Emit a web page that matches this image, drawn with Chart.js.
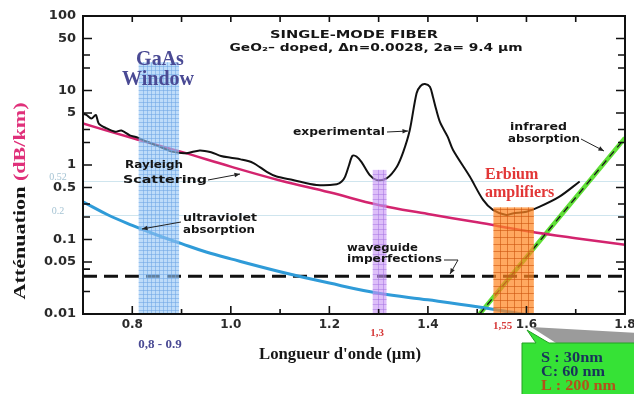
<!DOCTYPE html>
<html>
<head>
<meta charset="utf-8">
<script src="https://cdn.jsdelivr.net/npm/chart.js@4.4.1/dist/chart.umd.min.js"></script>
<style>
  html, body { margin: 0; padding: 0; background: #fff; }
  #wrap { width: 634px; height: 394px; }
</style>
</head>
<body>
<div id="wrap"><canvas id="chart" width="634" height="394"></canvas></div>
<script>
// wavelength (µm) and attenuation (dB/km)
const expWl = [0.70, 0.707, 0.717, 0.726, 0.732, 0.748, 0.765, 0.778, 0.795, 0.81,
  0.83, 0.856, 0.883, 0.91, 0.937, 0.96, 0.98, 1.0, 1.02, 1.045,
  1.073, 1.093, 1.126, 1.174, 1.215, 1.225, 1.232, 1.24, 1.247, 1.255,
  1.265, 1.282, 1.296, 1.316, 1.337, 1.35, 1.363, 1.377, 1.385, 1.394,
  1.404, 1.41, 1.417, 1.425, 1.44, 1.451, 1.485, 1.512, 1.532, 1.559,
  1.572, 1.60, 1.627, 1.667, 1.708];
const expAtt = [4.9, 4.7, 4.2, 4.7, 3.6, 3.1, 2.8, 2.9, 2.5, 2.35,
  2.05, 1.76, 1.5, 1.44, 1.57, 1.48, 1.32, 1.25, 1.19, 1.07,
  0.81, 0.70, 0.63, 0.54, 0.55, 0.60, 0.70, 1.0, 1.33, 1.3,
  1.1, 0.73, 0.63, 0.66, 0.95, 1.5, 2.9, 9.2, 11.5, 12.2,
  11.2, 8.3, 5.5, 3.7, 2.4, 1.59, 0.70, 0.34, 0.25, 0.213,
  0.224, 0.236, 0.276, 0.376, 0.60];

const rayWl = [0.7, 0.8, 0.9, 1.0, 1.1, 1.2, 1.3, 1.4, 1.5, 1.6, 1.7, 1.8];
const rayAtt = [3.6, 2.3, 1.5, 0.95, 0.62, 0.43, 0.29, 0.22, 0.17, 0.13, 0.104, 0.085];

const uvWl = [0.7, 0.75, 0.8, 0.85, 0.9, 0.95, 1.0, 1.1, 1.2, 1.3, 1.4, 1.5, 1.6];
const uvAtt = [0.32, 0.215, 0.155, 0.115, 0.088, 0.068, 0.055, 0.037, 0.026, 0.019, 0.0155, 0.0125, 0.0098];

const wgWl = [0.7, 1.8];
const wgAtt = [0.032, 0.032];

const irWl = [1.505, 1.55, 1.6, 1.65, 1.7, 1.75, 1.8];
const irAtt = [0.01, 0.023, 0.058, 0.146, 0.366, 0.92, 2.3];

// shaded windows: start / end wavelength, top value
const bandFrom = [0.813, 1.288, 1.533];
const bandTo = [0.895, 1.316, 1.615];
const bandTop = [24, 0.86, 0.27];

// faint reference levels on the left
const refLevels = [0.61, 0.21];
const refLabels = ['0.52', '0.2'];

const xTicks = [0.7, 0.8, 0.9, 1.0, 1.1, 1.2, 1.3, 1.4, 1.5, 1.6, 1.7, 1.8];
const xLabels = [0.8, 1.0, 1.2, 1.4, 1.6, 1.8];
const yTicks = [100, 50, 30, 20, 10, 5, 3, 2, 1, 0.5, 0.3, 0.2, 0.1, 0.05, 0.04, 0.02, 0.01];
const yLabels = [100, 50, 10, 5, 1, 0.5, 0.1, 0.05, 0.01];

const bandStyle = [
  {fill: 'rgba(150,198,245,0.62)', grid: 'rgba(110,165,230,0.55)', step: 4},
  {fill: 'rgba(200,150,245,0.62)', grid: 'rgba(165,115,225,0.5)', step: 5},
  {fill: 'rgba(255,135,35,0.72)', grid: 'rgba(205,85,15,0.6)', step: 7}
];

function pts(xs, ys) {
  return xs.map((x, i) => ({x: x, y: ys[i]}));
}

function fitText(ctx, text, x, y, w, font, color, align) {
  ctx.save();
  ctx.font = font;
  ctx.fillStyle = color;
  ctx.textBaseline = 'middle';
  ctx.textAlign = align || 'left';
  let k = w ? w / ctx.measureText(text).width : 1;
  ctx.translate(x, y);
  ctx.scale(k, 1);
  ctx.fillText(text, 0, 0);
  ctx.restore();
}

function arrow(ctx, x1, y1, x2, y2, head) {
  ctx.beginPath();
  ctx.moveTo(x1, y1);
  ctx.lineTo(x2, y2);
  ctx.stroke();
  if (!head) return;
  let ang = Math.atan2(y2 - y1, x2 - x1);
  ctx.beginPath();
  ctx.moveTo(x2, y2);
  ctx.lineTo(x2 - 6 * Math.cos(ang - 0.4), y2 - 6 * Math.sin(ang - 0.4));
  ctx.lineTo(x2 - 6 * Math.cos(ang + 0.4), y2 - 6 * Math.sin(ang + 0.4));
  ctx.closePath();
  ctx.fill();
}

const sans = '"DejaVu Sans", sans-serif';
const serif = '"Liberation Serif", "Times New Roman", serif';

const figure = {
  id: 'figure',
  beforeDatasetsDraw(chart) {
    const {ctx, chartArea: a, scales: {x, y}} = chart;
    ctx.save();
    ctx.strokeStyle = '#cfe5ee';
    ctx.lineWidth = 1;
    refLevels.forEach(v => {
      let py = Math.round(y.getPixelForValue(v)) + 0.5;
      ctx.beginPath();
      ctx.moveTo(a.left, py);
      ctx.lineTo(a.right, py);
      ctx.stroke();
    });
    ctx.restore();
  },
  afterDatasetsDraw(chart) {
    const {ctx, chartArea: a, scales: {x, y}} = chart;
    ctx.save();
    bandFrom.forEach((f, i) => {
      let st = bandStyle[i];
      let x0 = x.getPixelForValue(f), x1 = x.getPixelForValue(bandTo[i]);
      let y0 = y.getPixelForValue(bandTop[i]), y1 = a.bottom;
      ctx.fillStyle = st.fill;
      ctx.fillRect(x0, y0, x1 - x0, y1 - y0);
      ctx.strokeStyle = st.grid;
      ctx.lineWidth = 1;
      ctx.beginPath();
      for (let gx = x0 + st.step; gx < x1 - 1; gx += st.step) {
        ctx.moveTo(Math.round(gx) + 0.5, y0);
        ctx.lineTo(Math.round(gx) + 0.5, y1);
      }
      for (let gy = y1 - st.step; gy > y0 + 1; gy -= st.step) {
        ctx.moveTo(x0, Math.round(gy) + 0.5);
        ctx.lineTo(x1, Math.round(gy) + 0.5);
      }
      ctx.stroke();
    });
    ctx.restore();
  },
  afterDraw(chart) {
    const {ctx, chartArea: a, scales: {x, y}} = chart;
    ctx.save();

    // frame + inward ticks
    ctx.strokeStyle = '#111';
    ctx.lineWidth = 2;
    ctx.strokeRect(a.left, a.top, a.right - a.left, a.bottom - a.top);
    ctx.lineWidth = 1.6;
    ctx.beginPath();
    xTicks.forEach(v => {
      let px = x.getPixelForValue(v);
      let len = xLabels.includes(v) ? 8 : 5;
      ctx.moveTo(px, a.bottom); ctx.lineTo(px, a.bottom - len);
      ctx.moveTo(px, a.top); ctx.lineTo(px, a.top + 6);
    });
    yTicks.forEach(v => {
      let py = y.getPixelForValue(v);
      let len = yLabels.includes(v) ? 9 : 7;
      ctx.moveTo(a.left, py); ctx.lineTo(a.left + len, py);
      ctx.moveTo(a.right, py); ctx.lineTo(a.right - len, py);
    });
    ctx.stroke();

    // reference level labels
    refLevels.forEach((v, i) => {
      fitText(ctx, refLabels[i], 58, y.getPixelForValue(v) - 4, 0, '10px ' + serif, '#a6c4d4', 'center');
    });

    // title block
    fitText(ctx, 'SINGLE-MODE FIBER', 354, 35, 168, 'bold 10px ' + sans, '#151515', 'center');
    fitText(ctx, 'GeO\u2082\u2013 doped, \u0394n=0.0028, 2a= 9.4 \u00b5m', 376, 48, 293, 'bold 10px ' + sans, '#151515', 'center');

    // curve annotations
    const ann = 'bold 10px ' + sans;
    fitText(ctx, 'Rayleigh', 125, 165, 58, ann, '#151515');
    fitText(ctx, 'Scattering', 123, 180, 84, ann, '#151515');
    fitText(ctx, 'ultraviolet', 183, 218, 74, ann, '#151515');
    fitText(ctx, 'absorption', 183, 230, 72, ann, '#151515');
    fitText(ctx, 'experimental', 293, 132, 92, ann, '#151515');
    fitText(ctx, 'waveguide', 347, 248, 71, ann, '#151515');
    fitText(ctx, 'imperfections', 347, 259, 95, ann, '#151515');
    fitText(ctx, 'infrared', 510, 127, 57, ann, '#151515');
    fitText(ctx, 'absorption', 508, 139, 72, ann, '#151515');

    ctx.strokeStyle = '#222';
    ctx.fillStyle = '#222';
    ctx.lineWidth = 1;
    arrow(ctx, 208, 180, 240, 174, true);
    arrow(ctx, 181, 222, 142, 229, true);
    arrow(ctx, 387, 132, 408, 131, true);
    arrow(ctx, 444, 260, 458, 260, false);
    arrow(ctx, 458, 260, 450, 274, true);
    arrow(ctx, 581, 139, 604, 151, true);

    // window labels
    fitText(ctx, 'GaAs', 160, 60, 0, 'bold 20px ' + serif, '#4a4a94', 'center');
    fitText(ctx, 'Window', 158, 80, 0, 'bold 20px ' + serif, '#4a4a94', 'center');
    fitText(ctx, '0,8 - 0.9', 160, 345, 0, 'bold 13px ' + serif, '#4a4a94', 'center');
    fitText(ctx, 'Erbium', 485, 175, 0, 'bold 16px ' + serif, '#e23636');
    fitText(ctx, 'amplifiers', 485, 193, 0, 'bold 16px ' + serif, '#e23636');
    fitText(ctx, '1,3', 377, 333, 0, 'bold 11px ' + serif, '#d63a3a', 'center');
    fitText(ctx, '1,55', 493, 326, 0, 'bold 11px ' + serif, '#d63a3a');

    // axis titles
    fitText(ctx, "Longueur d'onde (\u00b5m)", 340, 355, 162, 'bold 16px ' + serif, '#151515', 'center');
    ctx.save();
    ctx.translate(21, 201);
    ctx.rotate(-Math.PI / 2);
    ctx.font = 'bold 17px ' + serif;
    let t1 = 'Att\u00e9nuation ', t2 = '(dB/km)';
    let w1 = ctx.measureText(t1).width, w2 = ctx.measureText(t2).width;
    ctx.scale(197 / (w1 + w2), 1);
    ctx.textBaseline = 'middle';
    ctx.textAlign = 'left';
    let sx = -(w1 + w2) / 2;
    ctx.fillStyle = '#151515';
    ctx.fillText(t1, sx, 0);
    ctx.fillStyle = '#e0307a';
    ctx.fillText(t2, sx + w1, 0);
    ctx.restore();

    // green callout
    ctx.fillStyle = '#9b9b9b';
    ctx.beginPath();
    ctx.moveTo(531, 327); ctx.lineTo(640, 333); ctx.lineTo(640, 343); ctx.lineTo(556, 343);
    ctx.closePath();
    ctx.fill();
    ctx.fillStyle = '#36e236';
    ctx.strokeStyle = '#23a023';
    ctx.beginPath();
    ctx.moveTo(522, 400); ctx.lineTo(522, 343); ctx.lineTo(536, 343); ctx.lineTo(527, 330);
    ctx.lineTo(549, 343); ctx.lineTo(640, 343); ctx.lineTo(640, 400);
    ctx.closePath();
    ctx.fill();
    ctx.stroke();
    fitText(ctx, 'S : 30nm', 541, 358, 62, 'bold 15px ' + serif, '#18345a');
    fitText(ctx, 'C: 60 nm', 541, 372, 64, 'bold 15px ' + serif, '#18345a');
    fitText(ctx, 'L : 200 nm', 541, 386, 75, 'bold 15px ' + serif, '#b4501a');

    ctx.restore();
  }
};

new Chart(document.getElementById('chart').getContext('2d'), {
  type: 'line',
  data: {
    datasets: [
      {data: pts(irWl, irAtt), borderColor: '#1a1a1a', borderWidth: 1.3, borderDash: [7, 5], tension: 0},
      {data: pts(expWl, expAtt), borderColor: '#111', borderWidth: 2, tension: 0.3},
      {data: pts(rayWl, rayAtt), borderColor: '#d3246e', borderWidth: 2.5, tension: 0.4},
      {data: pts(uvWl, uvAtt), borderColor: '#2f9bd8', borderWidth: 3, tension: 0.4},
      {data: pts(wgWl, wgAtt), borderColor: '#111', borderWidth: 3, borderDash: [14, 7], tension: 0},
      {data: pts(irWl, irAtt), borderColor: '#5fe036', borderWidth: 4.5, tension: 0}
    ]
  },
  options: {
    responsive: false,
    animation: false,
    devicePixelRatio: 1,
    layout: {padding: {left: 0, right: 9, top: 16, bottom: 0}},
    elements: {point: {radius: 0}, line: {fill: false, borderCapStyle: 'butt', borderJoinStyle: 'round'}},
    plugins: {legend: {display: false}, tooltip: {enabled: false}},
    scales: {
      x: {
        type: 'linear', min: 0.7, max: 1.8,
        afterBuildTicks: s => { s.ticks = xLabels.map(v => ({value: v})); },
        afterFit: s => { s.height = 80; s.paddingLeft = 0; s.paddingRight = 0; },
        grid: {display: false, drawTicks: false},
        border: {display: false},
        ticks: {autoSkip: false, maxRotation: 0, padding: 4, color: '#2a2a2a',
          font: {family: 'DejaVu Sans', size: 12, weight: 'bold'},
          callback: v => v.toFixed(1)}
      },
      y: {
        type: 'logarithmic', min: 0.01, max: 100,
        afterBuildTicks: s => { s.ticks = yLabels.map(v => ({value: v})); },
        afterFit: s => { s.width = 83; s.paddingTop = 0; s.paddingBottom = 0; },
        grid: {display: false, drawTicks: false},
        border: {display: false},
        ticks: {autoSkip: false, padding: 7, color: '#2a2a2a',
          font: {family: 'DejaVu Sans', size: 13, weight: 'bold'},
          callback: v => String(v)}
      }
    }
  },
  plugins: [figure]
});
</script>
</body>
</html>
